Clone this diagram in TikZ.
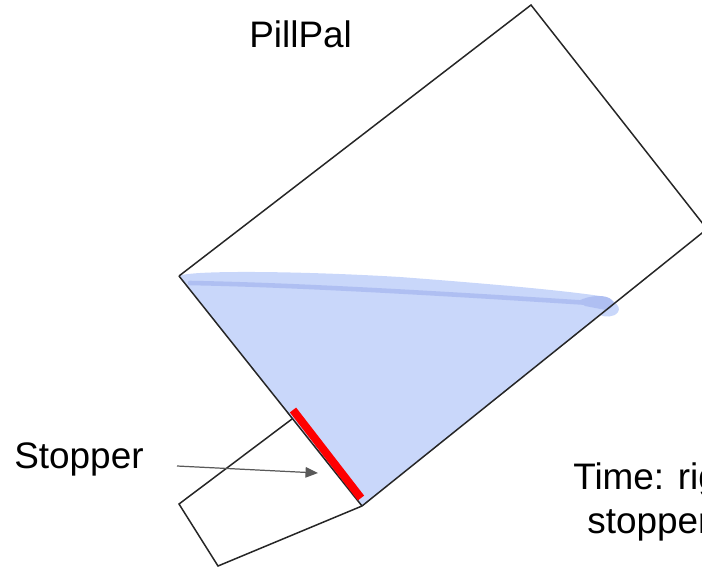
\documentclass[tikz,border=0pt]{standalone}
\usepackage{fontspec}
\setmainfont{Liberation Sans}
\usetikzlibrary{arrows.meta,positioning,calc}
\definecolor{liquid}{HTML}{C9D7FA}
\definecolor{liquidtop}{HTML}{AFBFF2}
\definecolor{stoppred}{HTML}{FF0000}
\tikzset{
  outline/.style={draw=black!85, line width=0.85pt, line join=miter},
  label/.style={font=\fontsize{21}{25}\selectfont, text=black, inner sep=0pt},
  pointer/.style={-{Stealth[length=2.5mm, width=2.1mm, inset=0pt]}, line width=0.7pt, draw=black!65},
}
\begin{document}
\begin{tikzpicture}[x=0.02cm, y=-0.02cm]
  \useasboundingbox (0,0) rectangle (702,568);
  \clip (0,0) rectangle (702,568);
  \coordinate (top) at (531,5);
  \coordinate (right) at (707,229);
  \coordinate (left) at (179,276);
  \coordinate (base) at (362,506);
  \coordinate (outA) at (292,419);
  \coordinate (outB) at (179,504);
  \coordinate (outC) at (218,566);
  \coordinate (tail) at (177,466);
  \coordinate (tip) at (318,473);
  % liquid
  \fill[liquid] (left) .. controls (190,270) and (300,271) .. (400,277)
    .. controls (480,283) and (560,290) .. (600,296)
    .. controls (612,298) and (622,306) .. (618,312)
    .. controls (614,318) and (604,317) .. (600,315) -- (base) -- cycle;
  \draw[liquidtop, line width=2.6pt, line cap=round] (190,283) .. controls (300,285) and (450,294) .. (590,303);
  \fill[liquidtop] (578,301) .. controls (590,295) and (606,294) .. (612,300)
    .. controls (616,304) and (612,309) .. (606,310) -- (585,306) -- cycle;
  % container
  \draw[outline] (left) -- (top) -- (right) -- (base);
  \draw[outline] (base) -- (left);
  \draw[outline] (outA) -- (outB) -- (outC) -- (base);
  \draw[stoppred, line width=4.5pt] (293,410) -- (361,498);
  \draw[pointer] (tail) -- (tip);
  % text
  \node[label, anchor=base west] (title) at (249,47) {PillPal};
  \node[label, anchor=base west] (stopperlabel) at (14,468) {Stopper};
  \node[label, anchor=base west] (timeline) at (573,489) {Time: rig};
  \node[label, anchor=base west] (stopperline) at (587,533) {stopper};
\end{tikzpicture}
\end{document}
